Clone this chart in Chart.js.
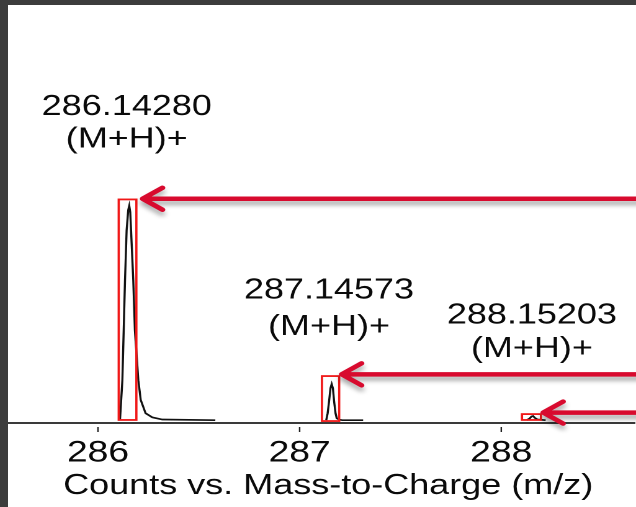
<!DOCTYPE html>
<html>
<head>
<meta charset="utf-8">
<script src="https://cdn.jsdelivr.net/npm/chart.js@4.4.0/dist/chart.umd.min.js"></script>
<style>
html, body { margin: 0; padding: 0; background: #3c3c3c; width: 636px; height: 507px; overflow: hidden; }
#frame { position: absolute; left: 8px; top: 5px; width: 628px; height: 502px; background: #fff; overflow: hidden; }
#stretch { width: 506px; height: 502px; transform: scaleX(1.2411); transform-origin: 0 0; }
</style>
</head>
<body>
<div id="frame"><div id="stretch"><canvas id="myChart"></canvas></div></div>
<script>
// x axis ticks (m/z)
var tickValues = [286, 287, 288];
var axisTitle = 'Counts vs. Mass-to-Charge (m/z)';

// peak labels
var peakLabels = ['286.14280', '287.14573', '288.15203'];
var ionLabel = '(M+H)+';

// peak profiles: m/z and relative counts (%)
var peak1Mz = [286.109, 286.121, 286.134, 286.142, 286.150, 286.155, 286.160, 286.164, 286.175, 286.183, 286.200, 286.212, 286.236, 286.269, 286.319, 286.582];
var peak1Int = [1.3, 19.7, 65.7, 88.7, 98, 100, 97, 88.7, 65.7, 42.7, 19.7, 10.6, 4.5, 2.6, 1.6, 1.3];
var peak2Mz = [287.132, 287.139, 287.146, 287.153, 287.159, 287.165, 287.171, 287.178, 287.184, 287.197, 287.212, 287.315];
var peak2Int = [1.3, 4.5, 10, 16, 17.9, 16, 10, 4.5, 2.2, 1.5, 1.3, 1.3];
var peak3Mz = [288.125, 288.140, 288.150, 288.158, 288.166, 288.180, 288.220];
var peak3Int = [1.3, 2.0, 3.0, 3.2, 2.4, 1.6, 1.3];

// red boxes round each peak (m/z range, counts range)
var boxMzMin = [286.1028, 287.1107, 288.1028];
var boxMzMax = [286.1903, 287.1962, 288.1967];
var boxIntMin = [1.4, 0.9, 1.4];
var boxIntMax = [102.9, 21.6, 4.1];

// arrows pointing at the boxes
var arrowTipMz = [286.2215, 287.2086, 288.2081];
var arrowInt = [103.2, 22.4, 4.8];

// where the label texts sit (counts of the first and second line)
var labelLine1 = [141.8, 57.4, 45.9];
var labelLine2 = [126.9, 40.4, 30.3];

function toPoints(xs, ys) {
    var out = [];
    for (var i = 0; i < xs.length; i++) {
        out.push({ x: xs[i], y: ys[i] });
    }
    return out;
}

var annotate = {
    id: 'annotate',
    afterDraw: function (chart) {
        var ctx = chart.ctx;
        var xs = chart.scales.x;
        var ys = chart.scales.y;
        ctx.save();

        // tick marks, a little below the axis line
        ctx.strokeStyle = '#222';
        ctx.lineWidth = 1.2;
        tickValues.forEach(function (v) {
            var px = xs.getPixelForValue(v);
            ctx.beginPath();
            ctx.moveTo(px, xs.top + 4);
            ctx.lineTo(px, xs.top + 9);
            ctx.stroke();
        });

        // boxes
        ctx.strokeStyle = '#f01818';
        ctx.lineWidth = 1.8;
        for (var i = 0; i < boxMzMin.length; i++) {
            var x1 = xs.getPixelForValue(boxMzMin[i]);
            var x2 = xs.getPixelForValue(boxMzMax[i]);
            var y1 = ys.getPixelForValue(boxIntMax[i]);
            var y2 = ys.getPixelForValue(boxIntMin[i]);
            ctx.strokeRect(x1, y1, x2 - x1, y2 - y1);
        }

        // arrows with a soft shadow
        ctx.strokeStyle = '#d80a2e';
        ctx.lineWidth = 4.5;
        ctx.lineCap = 'round';
        ctx.lineJoin = 'round';
        ctx.shadowColor = 'rgba(0,0,0,0.35)';
        ctx.shadowBlur = 10;
        ctx.shadowOffsetY = 8;
        for (var k = 0; k < arrowTipMz.length; k++) {
            var tx = xs.getPixelForValue(arrowTipMz[k]);
            var ty = ys.getPixelForValue(arrowInt[k]);
            ctx.beginPath();
            ctx.moveTo(chart.width + 20, ty);
            ctx.lineTo(tx + 1, ty);
            ctx.moveTo(tx + 16, ty - 11);
            ctx.lineTo(tx, ty);
            ctx.lineTo(tx + 16, ty + 11);
            ctx.stroke();
        }
        ctx.shadowColor = 'transparent';
        ctx.shadowBlur = 0;
        ctx.shadowOffsetY = 0;

        // peak labels
        ctx.fillStyle = '#0a0a0a';
        ctx.font = '29px "Liberation Sans", Arial, sans-serif';
        ctx.textAlign = 'center';
        ctx.textBaseline = 'alphabetic';
        for (var j = 0; j < peakLabels.length; j++) {
            var cx = xs.getPixelForValue(parseFloat(peakLabels[j]));
            ctx.fillText(peakLabels[j], cx, ys.getPixelForValue(labelLine1[j]));
            ctx.fillText(ionLabel, cx, ys.getPixelForValue(labelLine2[j]));
        }

        // axis title
        ctx.font = '29px "Liberation Sans", Arial, sans-serif';
        ctx.fillText(axisTitle, (chart.chartArea.left + chart.chartArea.right) / 2 + 5, xs.bottom - 13);
        ctx.restore();
    }
};

var lineStyle = {
    showLine: true,
    borderColor: '#111',
    borderWidth: 1.7,
    pointRadius: 0,
    tension: 0,
    fill: false
};

var ctx = document.getElementById('myChart').getContext('2d');
var myChart = new Chart(ctx, {
    type: 'scatter',
    data: {
        datasets: [
            Object.assign({ label: peakLabels[0], data: toPoints(peak1Mz, peak1Int) }, lineStyle),
            Object.assign({ label: peakLabels[1], data: toPoints(peak2Mz, peak2Int) }, lineStyle),
            Object.assign({ label: peakLabels[2], data: toPoints(peak3Mz, peak3Int) }, lineStyle)
        ]
    },
    options: {
        responsive: true,
        maintainAspectRatio: false,
        devicePixelRatio: 2,
        animation: false,
        layout: { padding: 0 },
        plugins: {
            legend: { display: false },
            tooltip: { enabled: false }
        },
        scales: {
            x: {
                type: 'linear',
                min: 285.559,
                max: 288.663,
                afterBuildTicks: function (axis) {
                    axis.ticks = tickValues.map(function (v) { return { value: v }; });
                },
                afterFit: function (axis) {
                    axis.height = 84;
                },
                grid: { display: true, drawOnChartArea: false, drawTicks: false },
                border: { display: true, color: '#3a3a3a', width: 2 },
                ticks: {
                    autoSkip: false,
                    maxRotation: 0,
                    padding: 12,
                    color: '#0a0a0a',
                    font: { family: '"Liberation Sans", Arial, sans-serif', size: 30 },
                    callback: function (v) { return String(v); }
                }
            },
            y: {
                display: false,
                min: 0,
                max: 192
            }
        }
    },
    plugins: [annotate]
});
</script>
</body>
</html>
